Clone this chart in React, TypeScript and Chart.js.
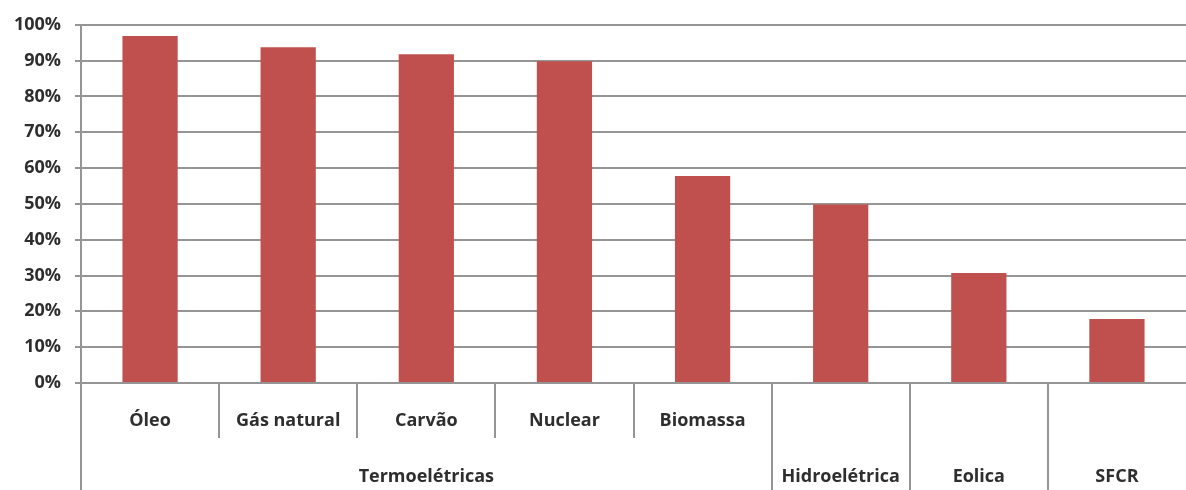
import React, { useEffect, useRef } from "react";
import { Chart, registerables } from "chart.js";

Chart.register(...registerables);

const categories = ["Óleo", "Gás natural", "Carvão", "Nuclear", "Biomassa", "Hidroelétrica", "Eolica", "SFCR"];
const subLabels = ["Óleo", "Gás natural", "Carvão", "Nuclear", "Biomassa", "", "", ""];
const groupLabels = ["Termoelétricas", "Hidroelétrica", "Eolica", "SFCR"];
const groupSpans = [5, 1, 1, 1];
const values = [96.9, 93.7, 91.8, 89.8, 57.8, 49.8, 30.7, 17.9];
const yTicks = [0, 10, 20, 30, 40, 50, 60, 70, 80, 90, 100];

const FONT = "'Open Sans', 'Noto Sans', sans-serif";
const TEXT = "#2e2e2e";
const LINE = "#959595";

const hierarchyPlugin = {
  id: "hierarchy",
  afterDraw(chart: any) {
    const { ctx, chartArea, scales } = chart;
    const x = scales.x;
    const n = categories.length;
    const w = (chartArea.right - chartArea.left) / n;
    const H = chart.height;
    const bottom = chartArea.bottom;
    const row1 = bottom + 38;
    const row2 = bottom + 94;
    const subEnd = bottom + 55;
    ctx.save();
    ctx.strokeStyle = LINE;
    ctx.lineWidth = 2;
    const groupStarts = new Set<number>();
    let acc = 0;
    groupSpans.forEach((s) => {
      groupStarts.add(acc);
      acc += s;
    });
    for (let i = 0; i < n; i++) {
      const bx = Math.round(x.getPixelForValue(i) - w / 2);
      const full = groupStarts.has(i);
      ctx.beginPath();
      ctx.moveTo(bx, bottom);
      ctx.lineTo(bx, full ? H : subEnd);
      ctx.stroke();
    }
    ctx.fillStyle = TEXT;
    ctx.font = `bold 18px ${FONT}`;
    ctx.textAlign = "center";
    ctx.textBaseline = "middle";
    subLabels.forEach((lab, i) => {
      if (lab) ctx.fillText(lab, x.getPixelForValue(i), row1);
    });
    acc = 0;
    groupLabels.forEach((lab, g) => {
      const s = groupSpans[g];
      const left = x.getPixelForValue(acc) - w / 2;
      const right = x.getPixelForValue(acc + s - 1) + w / 2;
      ctx.fillText(lab, (left + right) / 2, row2);
      acc += s;
    });
    ctx.restore();
  },
};

export default function App() {
  const ref = useRef<HTMLCanvasElement>(null);
  useEffect(() => {
    document.body.style.margin = "0";
    const chart = new Chart(ref.current!, {
      type: "bar",
      data: {
        labels: categories,
        datasets: [
          {
            data: values,
            backgroundColor: "#C0504D",
            borderWidth: 0,
            categoryPercentage: 1,
            barPercentage: 0.4,
          },
        ],
      },
      options: {
        animation: false,
        responsive: false,
        layout: { padding: { top: 22, bottom: 107, right: 0, left: 0 } },
        plugins: { legend: { display: false }, tooltip: { enabled: false } },
        scales: {
          x: { display: false },
          y: {
            min: 0,
            max: 100,
            afterFit(s: any) {
              s.width = 81;
            },
            afterBuildTicks(s: any) {
              s.ticks = yTicks.map((v) => ({ value: v }));
            },
            ticks: {
              callback: (v: any) => `${v}%`,
              color: TEXT,
              padding: 14,
              font: { family: FONT, size: 18, weight: "bold" },
            },
            grid: { color: LINE, lineWidth: 2, tickLength: 6 },
            border: { color: LINE, width: 2 },
          },
        },
      },
      plugins: [hierarchyPlugin],
    });
    return () => chart.destroy();
  }, []);
  return (
    <div style={{ width: 1186, height: 490, background: "#fff" }}>
      <canvas ref={ref} width={1186} height={490} />
    </div>
  );
}
